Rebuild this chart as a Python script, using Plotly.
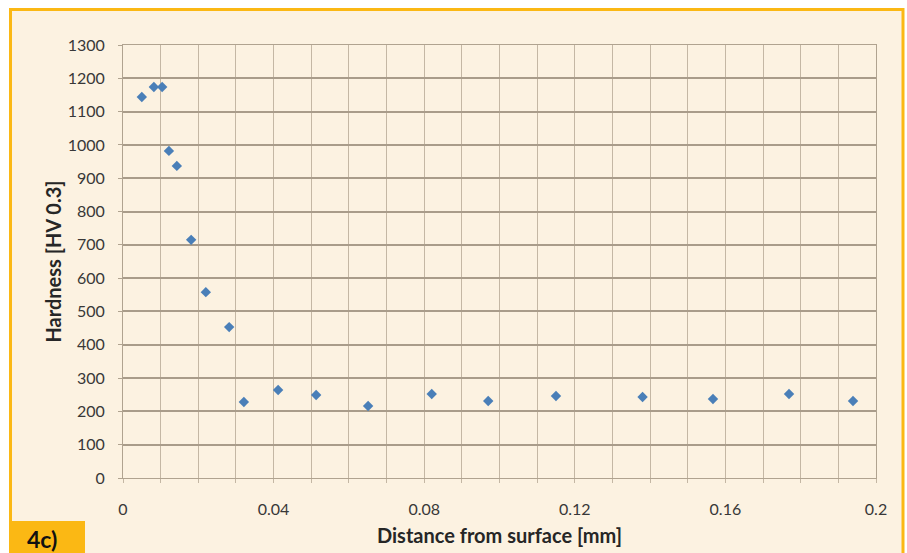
import plotly.graph_objects as go

distance_mm = [0.0050, 0.0082, 0.0104, 0.0122, 0.0143, 0.0181, 0.0220, 0.0282, 0.0321,
               0.0412, 0.0513, 0.0651, 0.0820, 0.0970, 0.1150, 0.1380, 0.1567, 0.1769, 0.1939]
hardness_hv = [1144, 1174, 1174, 982, 937, 715, 558, 453, 228,
               264, 249, 216, 252, 231, 246, 243, 237, 252, 231]

W, H = 907, 553
PL, PR, PT, PB = 123, 876, 45, 478          # plot area in page pixels
L, R, T, B = PL, W - PR, PT, H - PB
PW, PH = PR - PL, PB - PT

def px(x):
    return (x - PL) / PW

def py(y):
    return (PB - y) / PH

cream = "#fcf2e1"
orange = "#fbb814"

fig = go.Figure()
fig.add_trace(go.Scatter(
    x=distance_mm, y=hardness_hv, mode="markers",
    marker=dict(symbol="diamond", size=8, color="#4a7fb8"),
    showlegend=False,
))

fig.add_shape(type="rect", xref="paper", yref="paper",
              x0=px(10.5), x1=px(903), y0=py(600), y1=py(9.5),
              fillcolor=cream, line=dict(color=orange, width=3), layer="below")
fig.add_shape(type="rect", xref="paper", yref="paper",
              x0=px(9), x1=px(85), y0=py(570), y1=py(521),
              fillcolor=orange, line=dict(width=0), layer="above")
fig.add_annotation(xref="paper", yref="paper", x=px(42), y=py(539),
                   xanchor="center", yanchor="middle",
                   text="<b>4c)</b>", showarrow=False,
                   font=dict(family="Lato", size=23, color="#111111"))

tick_font = dict(family="Lato", size=16, color="#383838")
title_font = dict(family="Lato", size=20, color="#262626")
fig.update_layout(
    width=W, height=H,
    margin=dict(l=L, r=R, t=T, b=B, pad=0, autoexpand=False),
    paper_bgcolor="white",
    plot_bgcolor=cream,
    xaxis=dict(
        range=[0, 0.2], dtick=0.04, tick0=0, tickformat="~g",
        automargin=False,
        showgrid=True, gridcolor="#c4b7a4", gridwidth=1.2,
        minor=dict(dtick=0.01, showgrid=True, gridcolor="#c4b7a4", gridwidth=1.2,
                   ticks="outside", ticklen=4, tickcolor="#c4b7a4"),
        ticks="outside", ticklen=4, tickcolor="#c4b7a4",
        ticklabelstandoff=13,
        showline=True, linecolor="#b0a390", mirror=True, zeroline=False,
        tickfont=tick_font,
        title=dict(text="<b>Distance from surface [mm]</b>", font=title_font, standoff=11),
    ),
    yaxis=dict(
        range=[0, 1300], dtick=100,
        automargin=False,
        showgrid=True, gridcolor="#a99c8a", gridwidth=1.5,
        ticks="outside", ticklen=4, tickcolor="#b0a390",
        ticklabelstandoff=10,
        showline=True, linecolor="#b0a390", mirror=True, zeroline=False,
        tickfont=tick_font,
        title=dict(text="<b>Hardness [HV 0.3]</b>", font=title_font, standoff=0),
    ),
)

fig.write_html(
    "out.html",
    config={"displayModeBar": False},
    post_script="document.body.style.margin='0';document.body.style.overflow='hidden';",
)
